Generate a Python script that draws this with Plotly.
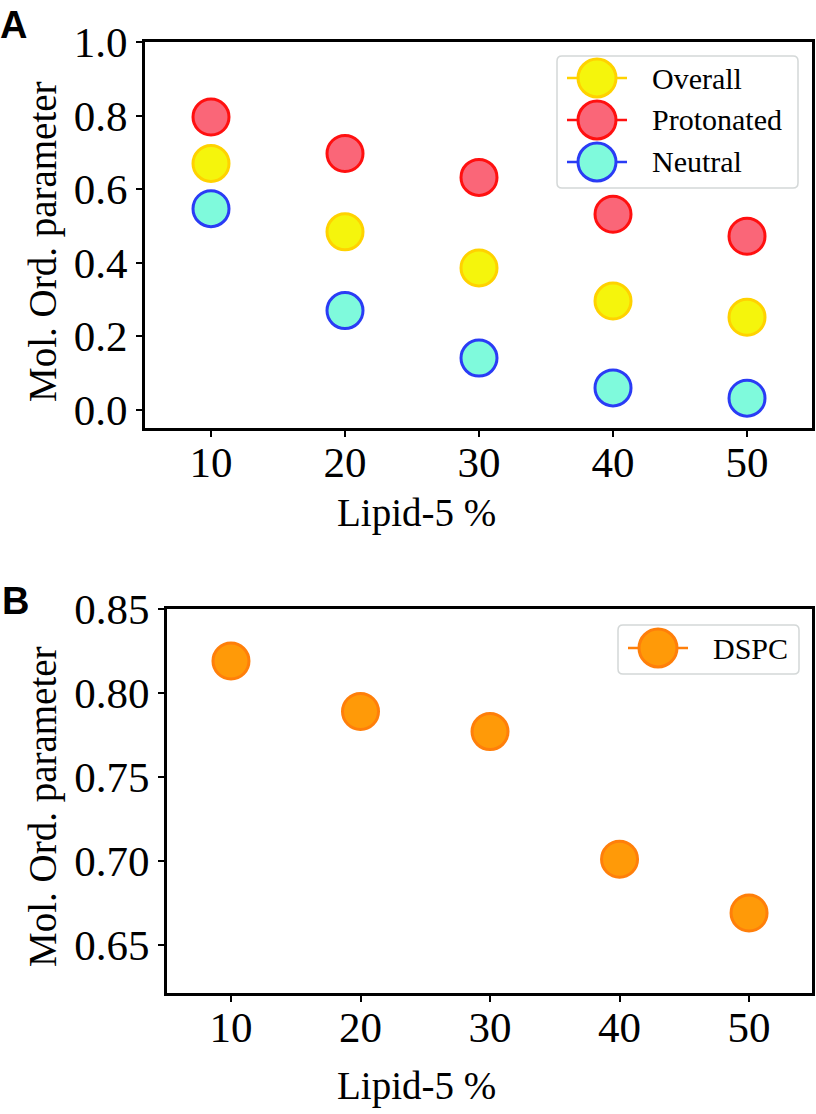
import plotly.graph_objects as go

# ---------------- data ----------------
lipid_pct = [10, 20, 30, 40, 50]
overall = [0.670, 0.484, 0.386, 0.296, 0.252]
protonated = [0.796, 0.697, 0.632, 0.532, 0.472]
neutral = [0.547, 0.270, 0.141, 0.060, 0.032]
dspc = [0.819, 0.789, 0.777, 0.701, 0.669]

x_ticks = [10, 20, 30, 40, 50]
a_yticks = [0.0, 0.2, 0.4, 0.6, 0.8, 1.0]
b_yticks = [0.65, 0.70, 0.75, 0.80, 0.85]

a_names = ["Overall", "Protonated", "Neutral"]
b_names = ["DSPC"]

# ---------------- styles ----------------
W, H = 816, 1114
SERIF = "Liberation Serif, Times New Roman, serif"
styles = {
    "Overall": dict(fill="#f5f50c", edge="#ffd200"),
    "Protonated": dict(fill="#fa6678", edge="#ff1010"),
    "Neutral": dict(fill="#7ffadc", edge="#2a3cf5"),
    "DSPC": dict(fill="#ff9a08", edge="#ff7f0a"),
}
MSIZE = 36
MLINE = 3


def px(x):
    return x / W


def py(y):
    return 1 - y / H


fig = go.Figure()

series_a = {"Overall": overall, "Protonated": protonated, "Neutral": neutral}
for name in a_names:
    st = styles[name]
    fig.add_trace(go.Scatter(
        x=lipid_pct, y=series_a[name], mode="markers", name=name,
        marker=dict(size=MSIZE, color=st["fill"], line=dict(color=st["edge"], width=MLINE)),
        xaxis="x", yaxis="y", showlegend=False,
    ))

st = styles["DSPC"]
fig.add_trace(go.Scatter(
    x=lipid_pct, y=dspc, mode="markers", name="DSPC",
    marker=dict(size=MSIZE, color=st["fill"], line=dict(color=st["edge"], width=MLINE)),
    xaxis="x2", yaxis="y2", showlegend=False,
))

axis_common = dict(
    showline=True, linecolor="black", linewidth=3, mirror=True,
    ticks="outside", ticklen=6, tickwidth=1.5, tickcolor="black",
    showgrid=False, zeroline=False, automargin=False,
    tickfont=dict(family=SERIF, size=43, color="black"),
)

fig.update_layout(
    width=W, height=H, autosize=False,
    margin=dict(l=0, r=0, t=0, b=0, pad=0, autoexpand=False),
    paper_bgcolor="white", plot_bgcolor="white",
    showlegend=False,
    font=dict(family=SERIF, color="black"),
    xaxis=dict(domain=[px(145), px(812)], range=[5.075, 54.85], anchor="y",
               tickvals=x_ticks, ticklabelstandoff=-12, **axis_common),
    yaxis=dict(domain=[py(428), py(42)], range=[-0.049, 1.0], anchor="x",
               tickvals=a_yticks, tickformat=".1f", **axis_common),
    xaxis2=dict(domain=[px(167), px(812)], range=[5.06, 54.86], anchor="y2",
                tickvals=x_ticks, ticklabelstandoff=-12, **axis_common),
    yaxis2=dict(domain=[py(993), py(609)], range=[0.6214, 0.85], anchor="x2",
                tickvals=b_yticks, tickformat=".2f", **axis_common),
)

annotations = []
title_font = dict(family=SERIF, size=39, color="black")
# axis titles
annotations.append(dict(text="Mol. Ord. parameter", x=px(43), y=py(242), xref="paper", yref="paper",
                        textangle=-90, showarrow=False, font=title_font, xanchor="center", yanchor="middle"))
annotations.append(dict(text="Lipid-5 %", x=px(416), y=py(513), xref="paper", yref="paper",
                        showarrow=False, font=title_font, xanchor="center", yanchor="middle"))
annotations.append(dict(text="Mol. Ord. parameter", x=px(43), y=py(807), xref="paper", yref="paper",
                        textangle=-90, showarrow=False, font=title_font, xanchor="center", yanchor="middle"))
annotations.append(dict(text="Lipid-5 %", x=px(416), y=py(1086), xref="paper", yref="paper",
                        showarrow=False, font=title_font, xanchor="center", yanchor="middle"))
# panel letters
panel_font = dict(family="Liberation Sans, Arial, sans-serif", size=38, color="black")
annotations.append(dict(text="<b>A</b>", x=px(-2), y=py(2), xref="paper", yref="paper",
                        showarrow=False, font=panel_font, xanchor="left", yanchor="top"))
annotations.append(dict(text="<b>B</b>", x=px(0), y=py(578), xref="paper", yref="paper",
                        showarrow=False, font=panel_font, xanchor="left", yanchor="top"))

shapes = []


def rounded_box(x0, y0, x1, y1, r=5):
    pts = [
        f"M {px(x0 + r)},{py(y0)}",
        f"L {px(x1 - r)},{py(y0)}",
        f"Q {px(x1)},{py(y0)} {px(x1)},{py(y0 + r)}",
        f"L {px(x1)},{py(y1 - r)}",
        f"Q {px(x1)},{py(y1)} {px(x1 - r)},{py(y1)}",
        f"L {px(x0 + r)},{py(y1)}",
        f"Q {px(x0)},{py(y1)} {px(x0)},{py(y1 - r)}",
        f"L {px(x0)},{py(y0 + r)}",
        f"Q {px(x0)},{py(y0)} {px(x0 + r)},{py(y0)}",
        "Z",
    ]
    return dict(type="path", path=" ".join(pts), xref="paper", yref="paper",
                line=dict(color="#d4d8d8", width=1.5), fillcolor="rgba(255,255,255,0.85)", layer="above")


legend_font = dict(family=SERIF, size=30, color="black")
R = 19


def legend_entry(name, left, cy):
    st = styles[name]
    line_x0, line_x1 = left + 10, left + 70
    cx = (line_x0 + line_x1) / 2
    shapes.append(dict(type="line", x0=px(line_x0), x1=px(line_x1), y0=py(cy), y1=py(cy),
                       xref="paper", yref="paper", line=dict(color=st["edge"], width=2.5), layer="above"))
    shapes.append(dict(type="circle", x0=px(cx - R), x1=px(cx + R), y0=py(cy + R), y1=py(cy - R),
                       xref="paper", yref="paper", fillcolor=st["fill"],
                       line=dict(color=st["edge"], width=MLINE), layer="above"))
    annotations.append(dict(text=name, x=px(left + 93), y=py(cy), xref="paper", yref="paper",
                            showarrow=False, font=legend_font, xanchor="left", yanchor="middle"))


# legend A
shapes.append(rounded_box(557, 56, 798, 188))
for i, name in enumerate(a_names):
    legend_entry(name, 557, 78 + 42 * i)

# legend B
shapes.append(rounded_box(618, 625, 799, 674))
legend_entry(b_names[0], 618, 648)

fig.update_layout(annotations=annotations, shapes=shapes)

fig.write_html("out.html", config={"displayModeBar": False},
               post_script="document.body.style.margin='0';")
